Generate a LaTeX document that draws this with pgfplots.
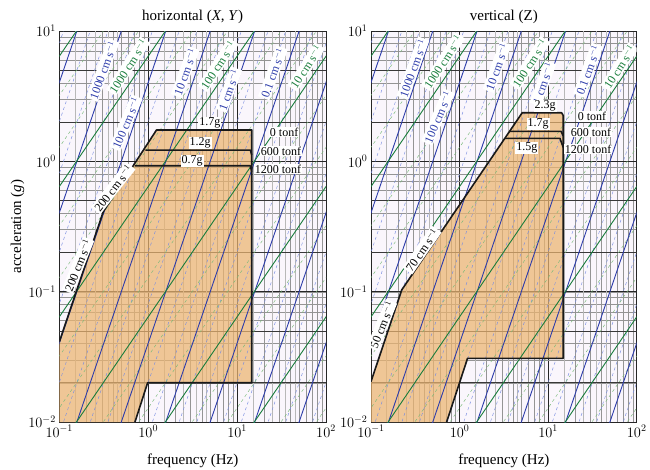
\documentclass[border=0pt]{standalone}
\usepackage{pgfplots}
\pgfplotsset{compat=1.18}
\usepackage{pgfplotstable}
\usepackage{fontspec}
\setmainfont{Liberation Serif}

\definecolor{bgcol}{RGB}{250,246,252}
\definecolor{fillcol}{RGB}{236,180,112}
\definecolor{bluecol}{RGB}{45,60,170}
\definecolor{lbluecol}{RGB}{120,140,225}
\definecolor{greencol}{RGB}{25,125,60}
\definecolor{lgreencol}{RGB}{120,185,120}

% constant-displacement lines (slope 2), decades
\pgfplotstableread{
f a
35.249 0.005
1000 4.024
nan nan
11.147 0.005
704.97 20
nan nan
3.5249 0.005
222.93 20
nan nan
1.1147 0.005
70.497 20
nan nan
0.35249 0.005
22.293 20
nan nan
0.11147 0.005
7.0497 20
nan nan
0.035249 0.005
2.2293 20
nan nan
0.011147 0.005
0.70497 20
nan nan
0.01 0.04024
0.22293 20
}\dispmajor

% constant-displacement lines, intermediate
\pgfplotstableread{
f a
49.85 0.005
1000 2.012
nan nan
24.925 0.005
1000 8.048
nan nan
15.764 0.005
996.97 20
nan nan
7.882 0.005
498.49 20
nan nan
4.985 0.005
315.27 20
nan nan
2.4925 0.005
157.64 20
nan nan
1.5764 0.005
99.697 20
nan nan
0.7882 0.005
49.849 20
nan nan
0.4985 0.005
31.527 20
nan nan
0.24925 0.005
15.764 20
nan nan
0.15764 0.005
9.9697 20
nan nan
0.07882 0.005
4.9849 20
nan nan
0.04985 0.005
3.1527 20
nan nan
0.024925 0.005
1.5764 20
nan nan
0.015764 0.005
0.99697 20
nan nan
0.01 0.008048
0.49849 20
nan nan
0.01 0.02012
0.31527 20
nan nan
0.01 0.08048
0.15764 20
}\dispminor

% constant-velocity lines (slope 1), decades
\pgfplotstableread{
f a
7.8064 0.005
1000 0.6405
nan nan
0.78064 0.005
1000 6.405
nan nan
0.078064 0.005
312.26 20
nan nan
0.01 0.006405
31.226 20
nan nan
0.01 0.06405
3.1226 20
nan nan
0.01 0.6405
0.31226 20
}\velmajor

% constant-velocity lines, intermediate
\pgfplotstableread{
f a
39.032 0.005
1000 0.1281
nan nan
15.613 0.005
1000 0.32025
nan nan
3.9032 0.005
1000 1.281
nan nan
1.5613 0.005
1000 3.2025
nan nan
0.39032 0.005
1000 12.81
nan nan
0.15613 0.005
624.52 20
nan nan
0.039032 0.005
156.13 20
nan nan
0.015613 0.005
62.452 20
nan nan
0.01 0.01281
15.613 20
nan nan
0.01 0.032025
6.2452 20
nan nan
0.01 0.1281
1.5613 20
nan nan
0.01 0.32025
0.62452 20
}\velminor

\tikzset{
  lbl/.style={fill=white, inner sep=1.2pt, font=\fontsize{12}{13}\selectfont},
  plab/.style={fill=white, inner sep=1pt, font=\fontsize{12}{13}\selectfont},
  dmin/.style={lbluecol, line width=0.45pt, dashed},
  dmaj/.style={bluecol, line width=0.9pt},
  vmin/.style={lgreencol, line width=0.45pt, dashed},
  vmaj/.style={greencol, line width=0.9pt},
  bnd/.style={black!90, line width=1.6pt, line join=round},
}

\pgfplotsset{
  every axis/.append style={
    scale only axis, height=391pt,
    anchor=south west, clip=true, unbounded coords=jump,
    axis background/.style={fill=bgcol},
    grid=both,
    major grid style={black!85, line width=0.6pt},
    minor grid style={black!42, line width=0.3pt},
    major tick length=0pt, minor tick length=0pt,
    xtick={0.1,1,10,100}, ytick={0.01,0.1,1,10},
    extra y ticks={0.02,0.05,0.2,0.5,2,5},
    extra y tick labels={},
    extra y tick style={grid=major, major grid style={black!78, line width=0.55pt}},
    extra x ticks={0.15,0.25,0.35,0.45,1.5,2.5,3.5,4.5,15,25,35,45},
    extra x tick labels={},
    extra x tick style={grid=major, major grid style={black!28, line width=0.3pt}},
    tick label style={font=\fontsize{14}{16}\selectfont},
    axis line style={line width=0.9pt, black!85},
    xlabel style={font=\fontsize{15}{17}\selectfont, at={(axis description cs:0.5,0)}, anchor=center, yshift=-39pt},
    title style={font=\fontsize{15}{17}\selectfont, at={(axis description cs:0.5,1)}, anchor=south, inner sep=1.5pt},
  },
}

\begin{document}
\begin{tikzpicture}
\useasboundingbox (0pt,0pt) rectangle (650pt,470pt);

% ---------------- horizontal ----------------
\begin{axis}[xmode=log, ymode=log,
  xmin=0.1, xmax=100, ymin=0.01, ymax=10,
  width=266.7pt,
  at={(59.3pt,48pt)},
  title={horizontal (\textit{X}, \textit{Y})},
  xlabel={frequency (Hz)},
  ylabel={acceleration (\textit{g})},
  ylabel style={font=\fontsize{15}{17}\selectfont, at={(axis description cs:-0.157,0.5)}, anchor=center},
]
\addplot[draw=none, fill=fillcol, fill opacity=0.72] coordinates {
  (0.1,0.01) (0.1,0.0412) (0.312,0.41) (1.24,1.74) (14.6,1.74) (14.6,0.02) (0.985,0.02) (0.71,0.01)} -- cycle;
\addplot[dmin] table[x=f,y=a] {\dispminor};
\addplot[vmin] table[x=f,y=a] {\velminor};
\addplot[dmaj] table[x=f,y=a] {\dispmajor};
\addplot[vmaj] table[x=f,y=a] {\velmajor};
\addplot[bnd] coordinates {(0.1,0.0412) (0.312,0.41) (1.24,1.74) (14.6,1.74) (14.6,0.02) (0.985,0.02) (0.71,0.01)};
\addplot[bnd] coordinates {(0.93,1.22) (14.1,1.22) (14.6,1.12)};
\addplot[bnd] coordinates {(0.706,0.925) (14.1,0.925) (14.6,0.83)};

\node[lbl,text=bluecol,rotate=70] at (rel axis cs:0.164,0.900) {1000 cm s$^{-1}$};
\node[lbl,text=greencol,rotate=57] at (rel axis cs:0.258,0.910) {1000 cm s$^{-1}$};
\node[lbl,text=bluecol,rotate=67] at (rel axis cs:0.250,0.765) {100 cm s$^{-1}$};
\node[lbl,text=bluecol,rotate=70] at (rel axis cs:0.472,0.895) {10 cm s$^{-1}$};
\node[lbl,text=greencol,rotate=57] at (rel axis cs:0.595,0.913) {100 cm s$^{-1}$};
\node[lbl,text=bluecol,rotate=70] at (rel axis cs:0.636,0.850) {1 cm s$^{-1}$};
\node[lbl,text=bluecol,rotate=70] at (rel axis cs:0.801,0.893) {0.1 cm s$^{-1}$};
\node[lbl,text=greencol,rotate=57] at (rel axis cs:0.925,0.908) {10 cm s$^{-1}$};
\node[lbl,rotate=52] at (rel axis cs:0.202,0.598) {200 cm s$^{-1}$};
\node[lbl,rotate=68] at (rel axis cs:0.070,0.401) {200 cm s$^{-1}$};
\node[plab] at (rel axis cs:0.565,0.765) {1.7g};
\node[plab] at (rel axis cs:0.528,0.714) {1.2g};
\node[plab] at (rel axis cs:0.498,0.668) {0.7g};
\node[plab] at (rel axis cs:0.843,0.742) {0 tonf};
\node[plab] at (rel axis cs:0.831,0.693) {600 tonf};
\node[plab] at (rel axis cs:0.820,0.647) {1200 tonf};
\end{axis}

% ---------------- vertical ----------------
\begin{axis}[xmode=log, ymode=log,
  xmin=0.1, xmax=100, ymin=0.01, ymax=10,
  width=265.7pt,
  at={(371pt,48pt)},
  title={vertical (Z)},
  xlabel={frequency (Hz)},
]
\addplot[draw=none, fill=fillcol, fill opacity=0.72] coordinates {
  (0.1,0.01) (0.1,0.0204) (0.222,0.103) (5.1,2.36) (14.2,2.36) (14.8,2.25) (14.8,0.0308) (1.23,0.0308) (0.715,0.01)} -- cycle;
\addplot[dmin] table[x=f,y=a] {\dispminor};
\addplot[vmin] table[x=f,y=a] {\velminor};
\addplot[dmaj] table[x=f,y=a] {\dispmajor};
\addplot[vmaj] table[x=f,y=a] {\velmajor};
\addplot[bnd] coordinates {(0.1,0.0204) (0.222,0.103) (5.1,2.36) (14.2,2.36) (14.8,2.25) (14.8,0.0308) (1.23,0.0308) (0.715,0.01)};
\addplot[bnd] coordinates {(3.67,1.7) (14.0,1.7) (14.8,1.57)};
\addplot[bnd] coordinates {(3.24,1.5) (13.6,1.5) (14.8,1.28)};

\node[lbl,text=bluecol,rotate=70] at (rel axis cs:0.158,0.905) {1000 cm s$^{-1}$};
\node[lbl,text=greencol,rotate=57] at (rel axis cs:0.271,0.921) {1000 cm s$^{-1}$};
\node[lbl,text=bluecol,rotate=67] at (rel axis cs:0.252,0.780) {100 cm s$^{-1}$};
\node[lbl,text=bluecol,rotate=70] at (rel axis cs:0.474,0.908) {10 cm s$^{-1}$};
\node[lbl,text=greencol,rotate=57] at (rel axis cs:0.598,0.918) {100 cm s$^{-1}$};
\node[lbl,text=bluecol,rotate=70] at (rel axis cs:0.647,0.866) {1 cm s$^{-1}$};
\node[lbl,text=bluecol,rotate=70] at (rel axis cs:0.817,0.900) {0.1 cm s$^{-1}$};
\node[lbl,text=greencol,rotate=57] at (rel axis cs:0.935,0.908) {10 cm s$^{-1}$};
\node[lbl,rotate=55] at (rel axis cs:0.192,0.440) {70 cm s$^{-1}$};
\node[lbl,rotate=68] at (rel axis cs:0.041,0.248) {50 cm s$^{-1}$};
\node[plab] at (rel axis cs:0.655,0.808) {2.3g};
\node[plab] at (rel axis cs:0.629,0.762) {1.7g};
\node[plab] at (rel axis cs:0.587,0.701) {1.5g};
\node[plab] at (rel axis cs:0.832,0.781) {0 tonf};
\node[plab] at (rel axis cs:0.828,0.742) {600 tonf};
\node[plab] at (rel axis cs:0.817,0.698) {1200 tonf};
\end{axis}
\end{tikzpicture}
\end{document}
